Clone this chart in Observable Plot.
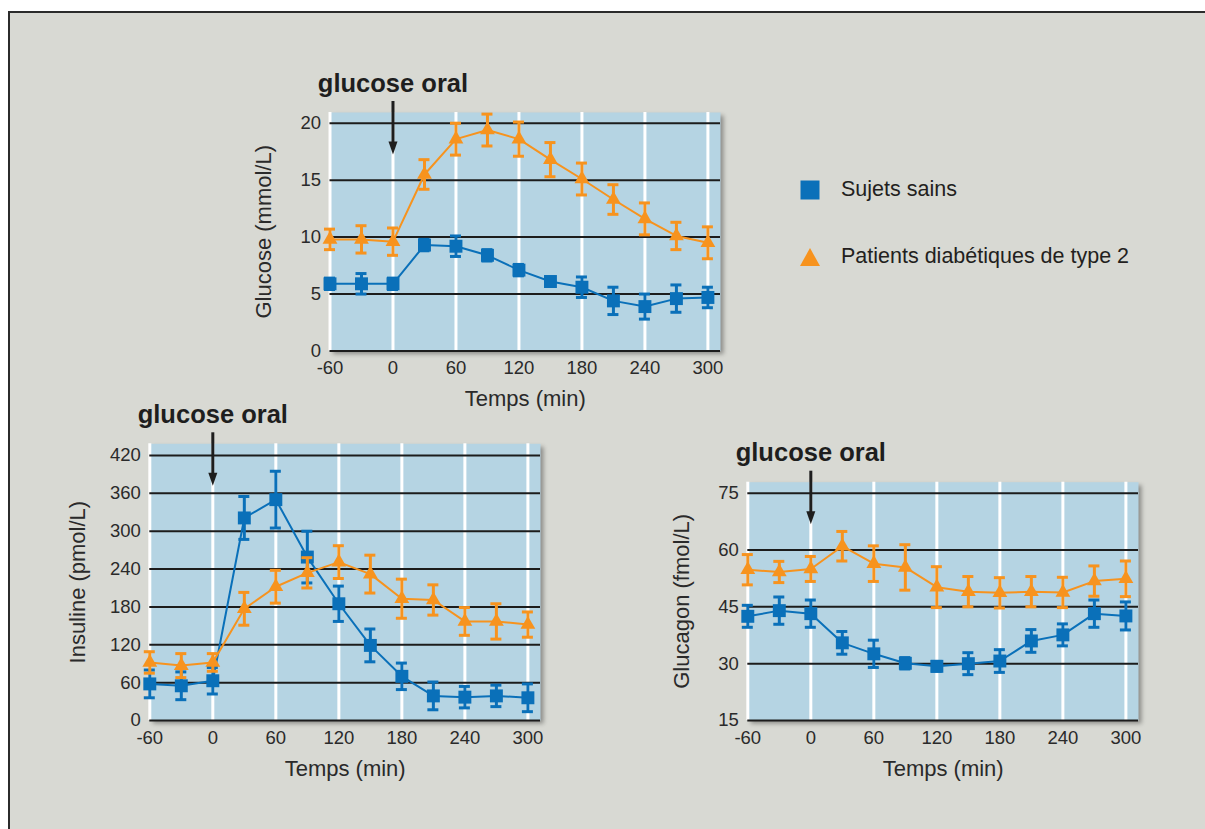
<!DOCTYPE html>
<html lang="fr">
<head>
<meta charset="utf-8">
<script src="https://cdn.jsdelivr.net/npm/d3@7"></script>
<script src="https://cdn.jsdelivr.net/npm/@observablehq/plot@0.6"></script>
<style>
  html, body { margin: 0; padding: 0; background: #ffffff; }
  #page { position: relative; width: 1205px; height: 829px; overflow: hidden; background: #ffffff;
          font-family: "Liberation Sans", Arial, sans-serif; color: #231f20; }
  #panel { position: absolute; left: 8px; top: 11px; width: 1230px; height: 840px;
           background: #d8d9d3; border-left: 2px solid #2b2b2b; border-top: 2px solid #2b2b2b; }
  .chart { position: absolute; }
  .legend-row { position: absolute; left: 800px; display: flex; align-items: center; font-size: 21.5px; }
  .legend-row svg { display: block; margin-right: 21px; }
</style>
</head>
<body>
<div id="page">
  <div id="panel"></div>
  <div id="glucose" class="chart" style="left:230px; top:60px;"></div>
  <div id="insulin" class="chart" style="left:40px; top:390px;"></div>
  <div id="glucagon" class="chart" style="left:650px; top:430px;"></div>
  <div id="legend"></div>
</div>
<script>
// Sampling times (min), relative to the oral glucose load at t = 0
const times = [-60, -30, 0, 30, 60, 90, 120, 150, 180, 210, 240, 270, 300];
const timeTicks = [-60, 0, 60, 120, 180, 240, 300];

// Series names
const seriesNames = ["Sujets sains", "Patients diabétiques de type 2"];

// Glucose (mmol/L): mean and error
const glucoseHealthy     = [5.9, 5.9, 5.9, 9.3, 9.2, 8.4, 7.1, 6.1, 5.6, 4.4, 3.9, 4.6, 4.7];
const glucoseHealthyErr  = [0.5, 0.9, 0.5, 0.5, 0.9, 0.5, 0.5, 0.4, 0.9, 1.2, 1.1, 1.2, 0.9];
const glucoseDiabetic    = [9.8, 9.8, 9.6, 15.5, 18.6, 19.4, 18.6, 16.8, 15.1, 13.3, 11.6, 10.1, 9.5];
const glucoseDiabeticErr = [0.9, 1.2, 1.2, 1.3, 1.4, 1.4, 1.5, 1.5, 1.4, 1.3, 1.4, 1.2, 1.4];
const glucoseTicks = [0, 5, 10, 15, 20];

// Insulin (pmol/L)
const insulinHealthy     = [58, 55, 63, 321, 350, 259, 185, 119, 70, 39, 37, 39, 36];
const insulinHealthyErr  = [22, 22, 21, 34, 45, 41, 28, 26, 21, 22, 17, 17, 22];
const insulinDiabetic    = [92, 87, 92, 177, 212, 234, 251, 232, 193, 191, 157, 157, 152];
const insulinDiabeticErr = [17, 19, 14, 26, 26, 24, 26, 30, 31, 24, 22, 28, 20];
const insulinTicks = [0, 60, 120, 180, 240, 300, 360, 420];

// Glucagon (fmol/L)
const glucagonHealthy     = [42.5, 44.0, 43.2, 35.5, 32.6, 30.1, 29.3, 30.0, 30.7, 36.0, 37.6, 43.2, 42.6];
const glucagonHealthyErr  = [2.9, 3.6, 3.6, 3.0, 3.6, 1.5, 1.3, 2.9, 3.0, 3.0, 2.9, 3.6, 3.7];
const glucagonDiabetic    = [54.8, 54.2, 55.0, 61.0, 56.4, 55.4, 50.2, 49.0, 48.7, 49.0, 48.8, 51.8, 52.4];
const glucagonDiabeticErr = [4.0, 2.8, 3.3, 3.9, 4.7, 6.0, 5.4, 4.0, 4.0, 4.0, 4.0, 4.0, 4.7];
const glucagonTicks = [15, 30, 45, 60, 75];

const annotation = "glucose oral";
const xLabel = "Temps (min)";

// Colours
const BLUE = "#0a70b9";
const ORANGE = "#f7931e";
const PLOT_BG = "#b5d4e3";
const GRID = "#1c1c1c";
const INK = "#1e1e1e";
const TEXT = "#2a2a2a";
const FONT = "'Liberation Sans', Arial, sans-serif";

// Narrow filled arrow head, tip at the origin pointing down
const arrowHead = {
  draw(ctx) {
    ctx.moveTo(0, 0);
    ctx.lineTo(-4.5, -13);
    ctx.lineTo(4.5, -13);
    ctx.closePath();
  }
};

const rows = (values, errs) => times.map((t, i) => ({t, v: values[i], e: errs[i]}));

function seriesMarks(data, color, symbol, r) {
  return [
    Plot.line(data, {x: "t", y: "v", stroke: color, strokeWidth: 2}),
    Plot.ruleX(data, {x: "t", y1: d => d.v - d.e, y2: d => d.v + d.e, stroke: color, strokeWidth: 3}),
    Plot.ruleY(data, {x1: "t", x2: "t", y: d => d.v + d.e, insetLeft: -5.5, insetRight: -5.5, stroke: color, strokeWidth: 3}),
    Plot.ruleY(data, {x1: "t", x2: "t", y: d => d.v - d.e, insetLeft: -5.5, insetRight: -5.5, stroke: color, strokeWidth: 3}),
    Plot.dot(data, {x: "t", y: "v", symbol, r, fill: color, stroke: "none"})
  ];
}

function chart({healthy, healthyErr, diabetic, diabeticErr, yDomain, yTicks, yLabel, yLabelDx,
                width, height, margin}) {
  const frameH = height - margin.top - margin.bottom;
  const svg = Plot.plot({
    width, height,
    marginLeft: margin.left, marginRight: margin.right,
    marginTop: margin.top, marginBottom: margin.bottom,
    style: {background: "transparent", fontFamily: FONT, fontSize: "18.5px", overflow: "visible", color: TEXT},
    x: {domain: [-60, 312]},
    y: {domain: yDomain},
    marks: [
      Plot.frame({fill: PLOT_BG, stroke: "none"}),
      Plot.ruleX(timeTicks, {stroke: "white", strokeWidth: 3}),
      Plot.ruleY(yTicks, {stroke: GRID, strokeWidth: 2}),
      // arrow marking the glucose intake
      Plot.ruleX([0], {stroke: INK, strokeWidth: 3, insetTop: -11, insetBottom: frameH - 33}),
      Plot.dot([0], {x: d => d, frameAnchor: "top", dy: 42, symbol: arrowHead, fill: INK, stroke: "none"}),
      Plot.text([annotation], {x: () => 0, text: d => d, frameAnchor: "top", dy: -21, lineAnchor: "bottom",
                               textAnchor: "middle", fontSize: 25.5, fontWeight: "bold", fill: INK}),
      ...seriesMarks(rows(healthy, healthyErr), BLUE, "square", 7.3),
      ...seriesMarks(rows(diabetic, diabeticErr), ORANGE, "triangle", 5.5),
      Plot.axisX(timeTicks, {tickSize: 0, tickPadding: 10, fontSize: 18.5, tickFormat: d => String(d), label: null, fill: TEXT}),
      Plot.axisY(yTicks, {tickSize: 0, tickPadding: 9, fontSize: 18.5, tickFormat: d => String(d), label: null, fill: TEXT}),
      Plot.text([xLabel], {text: d => d, frameAnchor: "bottom", dy: 55, lineAnchor: "bottom", textAnchor: "middle", fontSize: 22, fill: TEXT}),
      Plot.text([yLabel], {text: d => d, frameAnchor: "left", dx: yLabelDx, rotate: -90, textAnchor: "middle", lineAnchor: "middle", fontSize: 22, fill: TEXT})
    ]
  });
  const frame = svg.querySelector('[aria-label="frame"]');
  if (frame) frame.style.filter = "drop-shadow(3px 3px 2px rgba(0,0,0,0.35))";
  return svg;
}

document.getElementById("glucose").append(chart({
  healthy: glucoseHealthy, healthyErr: glucoseHealthyErr,
  diabetic: glucoseDiabetic, diabeticErr: glucoseDiabeticErr,
  yDomain: [0, 20.94], yTicks: glucoseTicks, yLabel: "Glucose (mmol/L)", yLabelDx: -66,
  width: 500, height: 360, margin: {left: 99.5, right: 10, top: 52, bottom: 69.5}
}));

document.getElementById("insulin").append(chart({
  healthy: insulinHealthy, healthyErr: insulinHealthyErr,
  diabetic: insulinDiabetic, diabeticErr: insulinDiabeticErr,
  yDomain: [0, 438.5], yTicks: insulinTicks, yLabel: "Insuline (pmol/L)", yLabelDx: -72,
  width: 510, height: 400, margin: {left: 109.3, right: 10, top: 53.3, bottom: 70}
}));

document.getElementById("glucagon").append(chart({
  healthy: glucagonHealthy, healthyErr: glucagonHealthyErr,
  diabetic: glucagonDiabetic, diabeticErr: glucagonDiabeticErr,
  yDomain: [15, 77.9], yTicks: glucagonTicks, yLabel: "Glucagon (fmol/L)", yLabelDx: -65.5,
  width: 500, height: 360, margin: {left: 97.3, right: 12, top: 51.7, bottom: 70}
}));

// Legend
const legend = document.getElementById("legend");
const swatches = [
  `<svg width="20" height="20"><rect x="0.5" y="0.5" width="19" height="19" fill="${BLUE}"/></svg>`,
  `<svg width="20" height="20"><polygon points="10,1 20,19 0,19" fill="${ORANGE}"/></svg>`
];
const legendTops = [177, 244];
seriesNames.forEach((name, i) => {
  const row = document.createElement("div");
  row.className = "legend-row";
  row.style.top = legendTops[i] + "px";
  row.innerHTML = swatches[i] + `<span>${name}</span>`;
  legend.append(row);
});
</script>
</body>
</html>
